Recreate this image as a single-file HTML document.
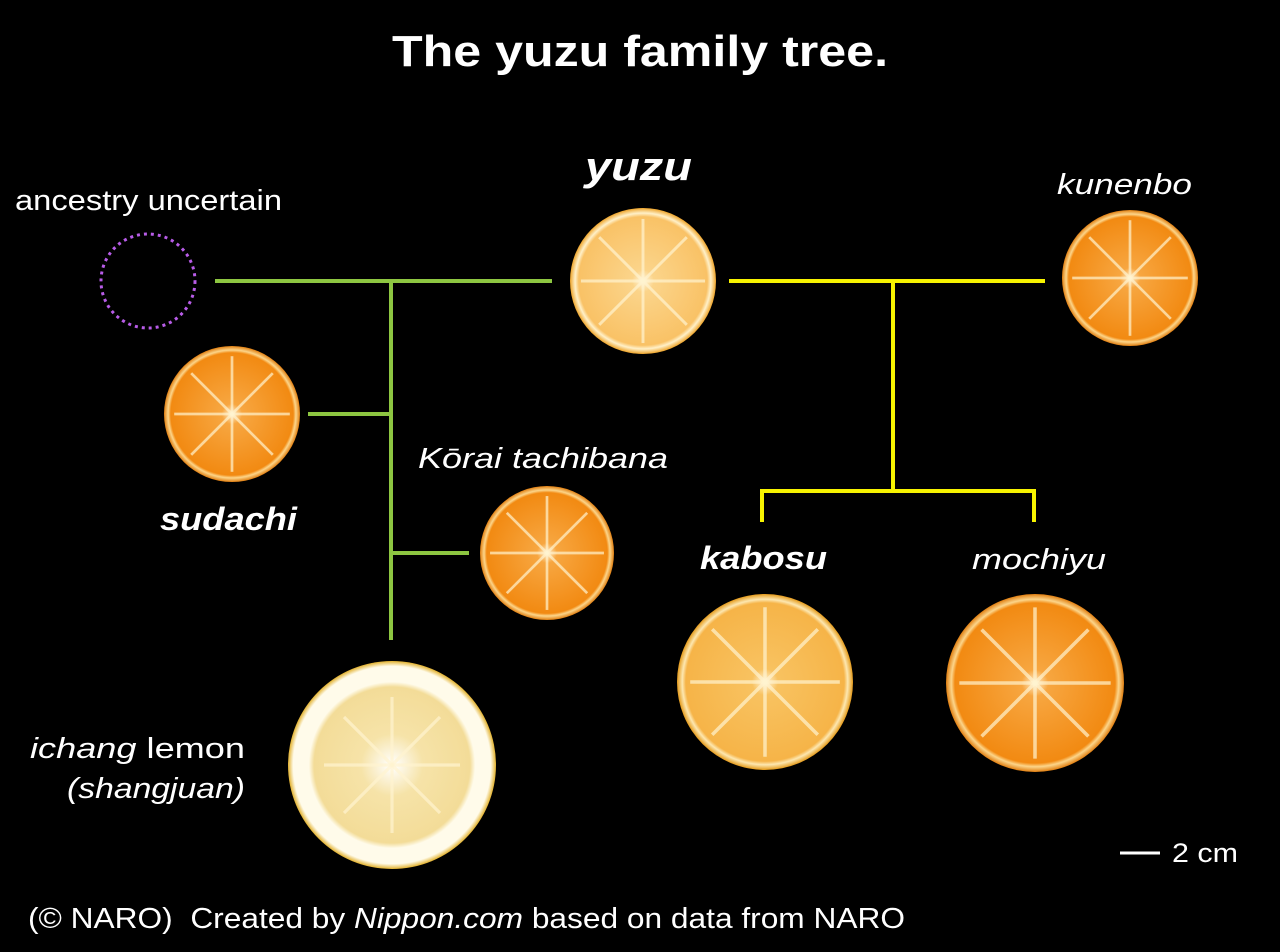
<!DOCTYPE html>
<html><head><meta charset="utf-8"><style>html,body{margin:0;padding:0;background:#000}svg{display:block}text{font-family:"Liberation Sans",sans-serif;fill:#fff}</style></head>
<body>
<svg width="1280" height="952" viewBox="0 0 1280 952" xmlns="http://www.w3.org/2000/svg">
<defs>
<radialGradient id="yz"><stop offset="0" stop-color="#fff6dc"/><stop offset="0.15" stop-color="#fbd48a"/><stop offset="0.88" stop-color="#f9c266"/><stop offset="0.93" stop-color="#fff0c8"/><stop offset="1" stop-color="#eea42a"/></radialGradient>
<radialGradient id="or"><stop offset="0" stop-color="#fff0d0"/><stop offset="0.15" stop-color="#f7a640"/><stop offset="0.9" stop-color="#f28a12"/><stop offset="0.94" stop-color="#fcd58a"/><stop offset="1" stop-color="#e07e10"/></radialGradient>
<radialGradient id="ic"><stop offset="0" stop-color="#fff"/><stop offset="0.3" stop-color="#f6e3a8"/><stop offset="0.75" stop-color="#f3dc98"/><stop offset="0.8" stop-color="#fffbea"/><stop offset="0.95" stop-color="#fffbea"/><stop offset="1" stop-color="#e2b12e"/></radialGradient>
<radialGradient id="kb"><stop offset="0" stop-color="#fff6dc"/><stop offset="0.15" stop-color="#f8c260"/><stop offset="0.9" stop-color="#f6b448"/><stop offset="0.94" stop-color="#fde7b0"/><stop offset="1" stop-color="#e49a1a"/></radialGradient>
<g id="sp" stroke="#fff3d0" stroke-opacity="0.7" stroke-width="0.04">
<line x1="0" y1="0" x2="0" y2="-0.85"/><line x1="0" y1="0" x2="0.6" y2="-0.6"/><line x1="0" y1="0" x2="0.85" y2="0"/><line x1="0" y1="0" x2="0.6" y2="0.6"/><line x1="0" y1="0" x2="0" y2="0.85"/><line x1="0" y1="0" x2="-0.6" y2="0.6"/><line x1="0" y1="0" x2="-0.85" y2="0"/><line x1="0" y1="0" x2="-0.6" y2="-0.6"/>
</g>
</defs>
<rect width="1280" height="952" fill="#000"/>
<text x="392" y="66" font-size="44" font-weight="bold" textLength="496" lengthAdjust="spacingAndGlyphs">The yuzu family tree.</text>
<g stroke="#8dc641" stroke-width="4" fill="none">
<line x1="215" y1="281" x2="552" y2="281"/><line x1="391" y1="281" x2="391" y2="640"/>
<line x1="308" y1="414" x2="391" y2="414"/><line x1="391" y1="553" x2="469" y2="553"/>
</g>
<g stroke="#f7f300" stroke-width="4" fill="none">
<line x1="729" y1="281" x2="1045" y2="281"/><line x1="893" y1="281" x2="893" y2="491"/>
<polyline points="762,522 762,491 1034,491 1034,522"/>
</g>
<circle cx="148" cy="281" r="47" fill="none" stroke="#b85ce8" stroke-width="3" stroke-dasharray="3,4"/>
<circle cx="643" cy="281" r="73" fill="url(#yz)"/><use href="#sp" transform="translate(643,281) scale(73)"/>
<circle cx="1130" cy="278" r="68" fill="url(#or)"/><use href="#sp" transform="translate(1130,278) scale(68)"/>
<circle cx="232" cy="414" r="68" fill="url(#or)"/><use href="#sp" transform="translate(232,414) scale(68)"/>
<circle cx="547" cy="553" r="67" fill="url(#or)"/><use href="#sp" transform="translate(547,553) scale(67)"/>
<circle cx="392" cy="765" r="104" fill="url(#ic)"/><use href="#sp" transform="translate(392,765) scale(80)"/>
<circle cx="765" cy="682" r="88" fill="url(#kb)"/><use href="#sp" transform="translate(765,682) scale(88)"/>
<circle cx="1035" cy="683" r="89" fill="url(#or)"/><use href="#sp" transform="translate(1035,683) scale(89)"/>
<text x="15" y="210" font-size="29" textLength="267" lengthAdjust="spacingAndGlyphs">ancestry uncertain</text>
<text x="585" y="180" font-size="40" font-weight="bold" font-style="italic" textLength="107" lengthAdjust="spacingAndGlyphs">yuzu</text>
<text x="1057" y="194" font-size="29" font-style="italic" textLength="135" lengthAdjust="spacingAndGlyphs">kunenbo</text>
<text x="160" y="530" font-size="32" font-weight="bold" font-style="italic" textLength="137" lengthAdjust="spacingAndGlyphs">sudachi</text>
<text x="418" y="468" font-size="29" font-style="italic" textLength="250" lengthAdjust="spacingAndGlyphs">Kōrai tachibana</text>
<text x="700" y="569" font-size="32" font-weight="bold" font-style="italic" textLength="127" lengthAdjust="spacingAndGlyphs">kabosu</text>
<text x="972" y="569" font-size="29" font-style="italic" textLength="134" lengthAdjust="spacingAndGlyphs">mochiyu</text>
<text x="30" y="758" font-size="29" textLength="215" lengthAdjust="spacingAndGlyphs"><tspan font-style="italic">ichang</tspan> lemon</text>
<text x="67" y="798" font-size="29" font-style="italic" textLength="178" lengthAdjust="spacingAndGlyphs">(shangjuan)</text>
<line x1="1120" y1="853" x2="1160" y2="853" stroke="#fff" stroke-width="3"/>
<text x="1172" y="862" font-size="27" textLength="66" lengthAdjust="spacingAndGlyphs">2 cm</text>
<text x="28" y="928" font-size="29" textLength="877" lengthAdjust="spacingAndGlyphs" xml:space="preserve">(© NARO)  Created by <tspan font-style="italic">Nippon.com</tspan> based on data from NARO</text>
</svg>
</body></html>
